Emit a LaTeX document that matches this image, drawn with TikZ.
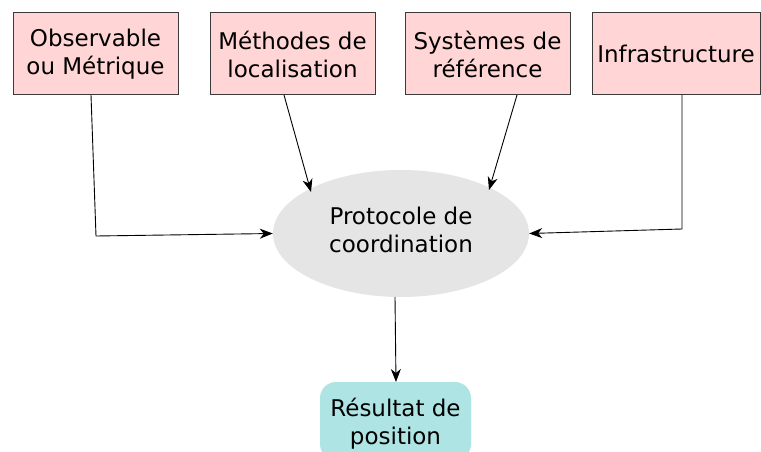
\documentclass[tikz,border=0pt]{standalone}
\usepackage{fontspec}
\setmainfont{DejaVu Sans}
\usetikzlibrary{arrows.meta,shapes.geometric}
\definecolor{boxpink}{HTML}{FFD5D5}
\definecolor{boxedge}{HTML}{3A3A3A}
\definecolor{ellgray}{HTML}{E5E5E5}
\definecolor{rescyan}{HTML}{AEE5E4}
\begin{document}
\begin{tikzpicture}[x=1pt,y=-1pt,
  every node/.style={font=\fontsize{23pt}{28pt}\selectfont, align=center, inner sep=0pt},
  srcbox/.style={rectangle, draw=boxedge, line width=1pt, fill=boxpink, minimum height=82pt},
  ellbox/.style={shape=ellipse, fill=ellgray, minimum width=256pt, minimum height=127pt},
  resbox/.style={rectangle, rounded corners=16pt, fill=rescyan, minimum width=151pt, minimum height=78pt},
  arr/.style={-{Stealth[length=13pt,width=10pt,inset=4pt]}, line width=0.9pt, black}]
\useasboundingbox (0,0) rectangle (761,452);
\node[srcbox, minimum width=165pt] (b1) at (95.5,54) {Observable\\ou Métrique};
\node[srcbox, minimum width=165pt] (b2) at (292.5,54) {Méthodes de\\localisation};
\node[srcbox, minimum width=165pt] (b3) at (487.5,54) {Systèmes de\\référence};
\node[srcbox, minimum width=168pt] (b4) at (676,54) {Infrastructure};
\node[ellbox, text depth=8pt] (e) at (401,233.5) {Protocole de\\coordination};
\node[resbox, text depth=-4pt] (r) at (395.5,421) {Résultat de\\position};
\coordinate (o1) at (91,95);
\coordinate (o2) at (96,236);
\coordinate (m1) at (284,95);
\coordinate (m2) at (311,192);
\coordinate (s1) at (517,95);
\coordinate (s2) at (489,190);
\coordinate (i1) at (682,95);
\coordinate (i2) at (682,229);
\coordinate (p1) at (395,297);
\coordinate (p2) at (396,382);
\draw[arr] (o1) -- (o2) -- (e.west);
\draw[arr] (m1) -- (m2);
\draw[arr] (s1) -- (s2);
\draw[arr] (i1) -- (i2) -- (e.east);
\draw[arr] (p1) -- (p2);
\end{tikzpicture}
\end{document}
